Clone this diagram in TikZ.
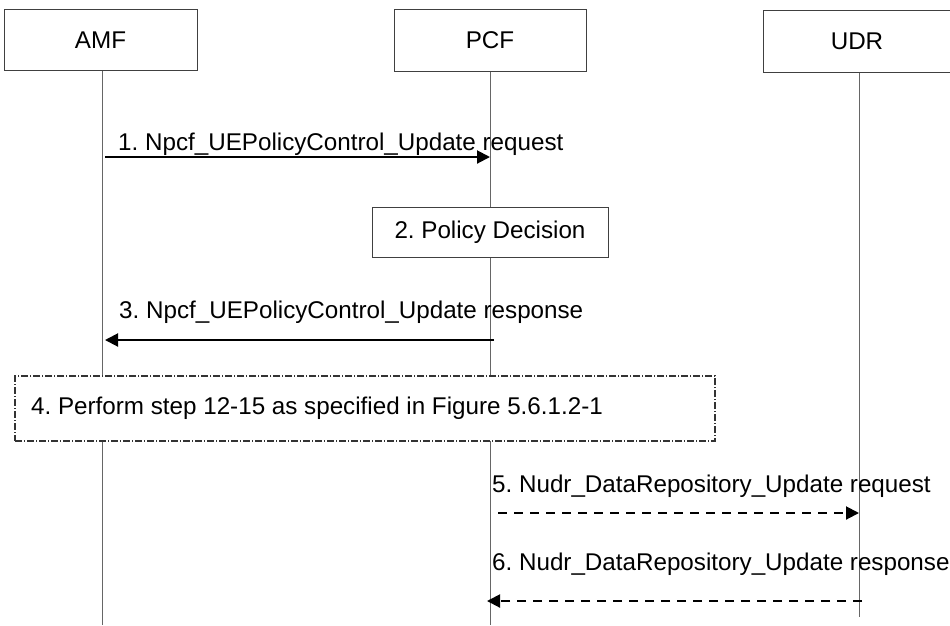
\documentclass[tikz,border=0pt]{standalone}
\usepackage{fontspec}
\setmainfont{Liberation Sans}
\usetikzlibrary{arrows.meta}
\begin{document}
\frenchspacing
\begin{tikzpicture}[x=1pt,y=-1pt,
  txt/.style={font=\fontsize{24.2}{28}\selectfont},
  entity/.style={txt,draw=black!75,line width=1pt,fill=white,inner sep=0pt},
  lifeline/.style={draw=black!60,line width=1pt},
  msg/.style={line width=2pt,-{Triangle[length=13pt,width=13pt]}},
  dmsg/.style={msg,dash pattern=on 9pt off 7pt},
  lbl/.style={txt,anchor=base west,inner sep=0pt},
  actbox/.style={txt,draw=black!75,line width=1pt,fill=white,inner sep=0pt},
  refbox/.style={draw=black!80,line width=1.3pt,fill=white,dash pattern=on 7pt off 2pt on 1pt off 2pt}]
\useasboundingbox (0,0) rectangle (950,625);
% entities
\node[entity,minimum width=193pt,minimum height=61pt] (amf) at (100.5,40) {AMF};
\node[entity,minimum width=192pt,minimum height=62pt] (pcf) at (490,40) {PCF};
\node[entity,minimum width=188pt,minimum height=62pt] (udr) at (857,41) {UDR};
% lifeline ends
\coordinate (amfE) at (102,625);
\coordinate (pcfE) at (490,625);
\coordinate (udrE) at (859,617);
\draw[lifeline] (amf.south -| amfE) -- (amfE);
\draw[lifeline] (pcf.south -| pcfE) -- (pcfE);
\draw[lifeline] (udr.south -| udrE) -- (udrE);
% message 1
\coordinate (m1s) at (105,157);
\coordinate (m1e) at (490,157);
\node[lbl] (t1) at (118,150) {1. Npcf\_UEPolicyControl\_Update request};
\draw[msg] (m1s) -- (m1e);
% box 2
\node[actbox,minimum width=236pt,minimum height=50pt] (pd) at (490,232) {2. Policy Decision};
% message 3
\coordinate (m3s) at (494,340);
\coordinate (m3e) at (105,340);
\node[lbl] (t3) at (119,318) {3. Npcf\_UEPolicyControl\_Update response};
\draw[msg] (m3s) -- (m3e);
% box 4
\node[refbox,minimum width=700pt,minimum height=65pt,inner sep=0pt] (ref) at (365,408.5) {};
\node[lbl] (t4) at (31,414) {4. Perform step 12-15 as specified in Figure 5.6.1.2-1};
% message 5
\coordinate (m5s) at (498,513);
\coordinate (m5e) at (859,513);
\node[lbl] (t5) at (492,492) {5. Nudr\_DataRepository\_Update request};
\draw[dmsg] (m5s) -- (m5e);
% message 6
\coordinate (m6s) at (862,601);
\coordinate (m6e) at (487,601);
\node[lbl] (t6) at (492,570) {6. Nudr\_DataRepository\_Update response};
\draw[dmsg] (m6s) -- (m6e);
\end{tikzpicture}
\end{document}
